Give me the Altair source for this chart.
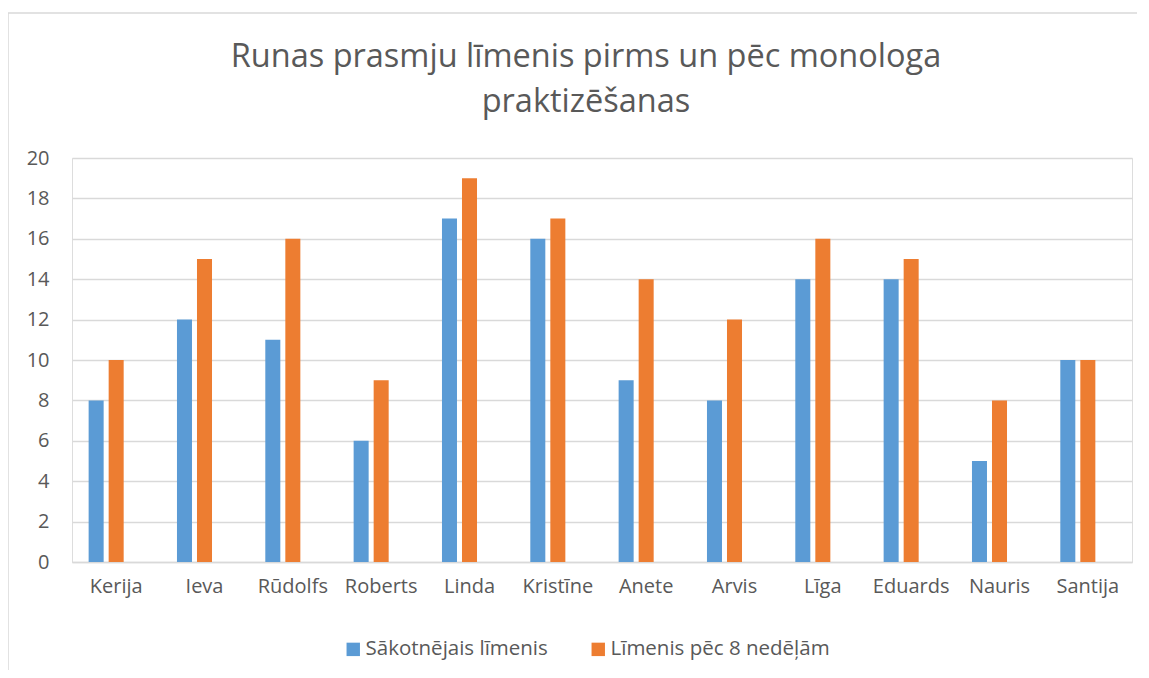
import altair as alt
import pandas as pd

names = ["Kerija", "Ieva", "Rūdolfs", "Roberts", "Linda", "Kristīne",
         "Anete", "Arvis", "Līga", "Eduards", "Nauris", "Santija"]
before = [8, 12, 11, 6, 17, 16, 9, 8, 14, 14, 5, 10]
after = [10, 15, 16, 9, 19, 17, 14, 12, 16, 15, 8, 10]
series = ["Sākotnējais līmenis", "Līmenis pēc 8 nedēļām"]
colors = ["#5B9BD5", "#ED7D31"]
title_lines = ["Runas prasmju līmenis pirms un pēc monologa", "praktizēšanas"]

rows = []
for n, b, a in zip(names, before, after):
    rows.append({"name": n, "series": series[0], "value": b})
    rows.append({"name": n, "series": series[1], "value": a})
df = pd.DataFrame(rows)

FONT = "Open Sans"
GREY = "#595959"
W, H = 1060, 404
FS = 20

bars = alt.Chart(df).mark_bar().encode(
    x=alt.X("name:N", sort=names, title=None,
            scale=alt.Scale(paddingInner=0.32, paddingOuter=0.16),
            axis=alt.Axis(labelAngle=0, labelFontSize=FS, labelColor=GREY, labelFont=FONT,
                          labelPadding=14, ticks=False, domainColor="#d9d9d9", domainWidth=1.5)),
    xOffset=alt.XOffset("series:N", sort=series + ["_"],
                        scale=alt.Scale(domain=series + ["_"], paddingInner=0.25, paddingOuter=0.125)),
    y=alt.Y("value:Q", title=None,
            scale=alt.Scale(domain=[0, 20]),
            axis=alt.Axis(values=list(range(0, 21, 2)), labelFontSize=FS, labelColor=GREY,
                          labelFont=FONT, labelPadding=23, ticks=False, domain=False,
                          gridColor="#d9d9d9", gridWidth=1.5)),
    color=alt.Color("series:N", sort=series,
                    scale=alt.Scale(domain=series, range=colors),
                    legend=alt.Legend(title=None, orient="none", direction="horizontal",
                                      legendX=271, legendY=481, symbolType="square",
                                      symbolSize=180, symbolStrokeWidth=0, labelFontSize=20.5,
                                      labelColor=GREY, labelFont=FONT, columnPadding=40,
                                      labelOffset=2, labelLimit=400)),
)

frame = pd.DataFrame({"k": [0]})
left_rule = alt.Chart(frame).mark_rule(color="#d9d9d9", strokeWidth=1.5, clip=False).encode(
    x=alt.value(-64), y=alt.value(-145), y2=alt.value(512))
top_rule = alt.Chart(frame).mark_rule(color="#d9d9d9", strokeWidth=1.5, clip=False).encode(
    x=alt.value(-64), x2=alt.value(1065), y=alt.value(-145))

title_df = pd.DataFrame({"t": ["\n".join(title_lines)]})
title = alt.Chart(title_df).mark_text(
    font=FONT, fontSize=32.5, color=GREY, align="center", baseline="alphabetic",
    lineBreak="\n", lineHeight=45, clip=False
).encode(text="t:N", x=alt.value(W / 2 - 16), y=alt.value(67 - 158))

chart = alt.layer(left_rule, top_rule, title, bars).properties(
    width=W, height=H,
    autosize=alt.AutoSizeParams(type="none"),
    padding={"left": 64, "top": 150, "right": 5, "bottom": 108},
).configure_view(stroke=None).configure(background="white")

chart.save("out.html", embed_options={"renderer": "svg", "actions": False})
